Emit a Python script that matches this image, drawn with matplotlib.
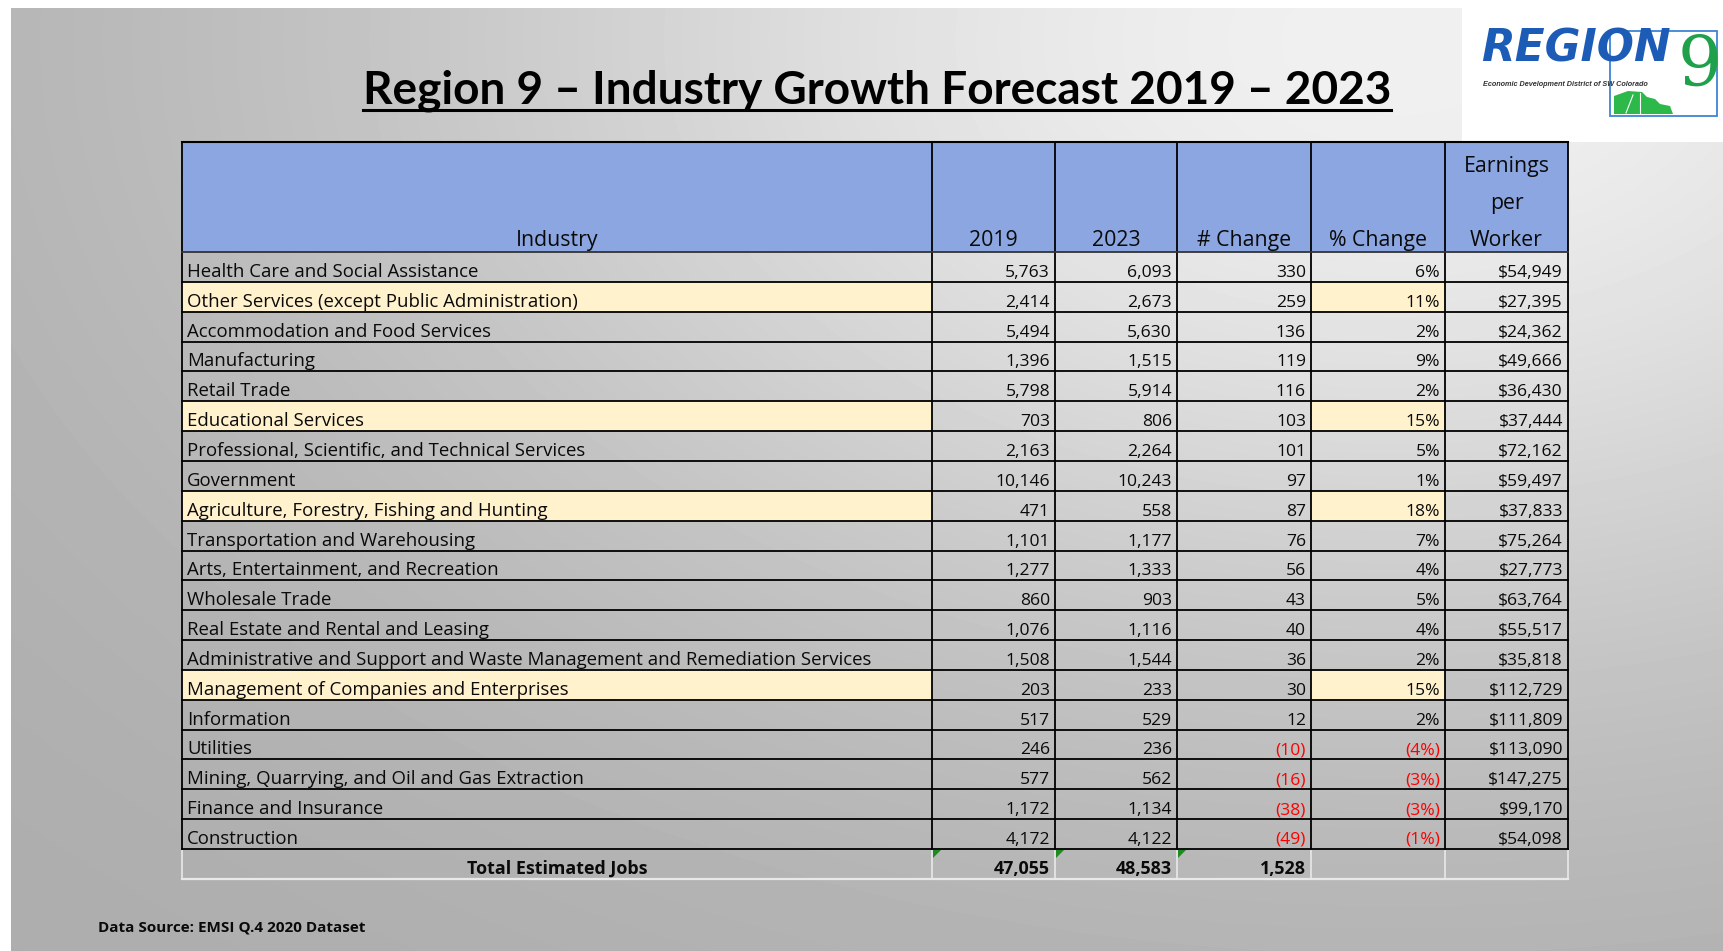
"""
plot.py
=======
Region 9 - Industry Growth Forecast 2019-2023 table, drawn with matplotlib.
"""

# =============================================================================
# IMPORTS
# =============================================================================
import matplotlib
matplotlib.use('Agg')
import matplotlib.pyplot as plt
from matplotlib.patches import Rectangle, Polygon
import numpy as np

# =============================================================================
# DATA
# =============================================================================
INDUSTRIES = [
    'Health Care and Social Assistance',
    'Other Services (except Public Administration)',
    'Accommodation and Food Services',
    'Manufacturing',
    'Retail Trade',
    'Educational Services',
    'Professional, Scientific, and Technical Services',
    'Government',
    'Agriculture, Forestry, Fishing and Hunting',
    'Transportation and Warehousing',
    'Arts, Entertainment, and Recreation',
    'Wholesale Trade',
    'Real Estate and Rental and Leasing',
    'Administrative and Support and Waste Management and Remediation Services',
    'Management of Companies and Enterprises',
    'Information',
    'Utilities',
    'Mining, Quarrying, and Oil and Gas Extraction',
    'Finance and Insurance',
    'Construction',
]
JOBS_2019 = [5763, 2414, 5494, 1396, 5798, 703, 2163, 10146, 471, 1101,
             1277, 860, 1076, 1508, 203, 517, 246, 577, 1172, 4172]
JOBS_2023 = [6093, 2673, 5630, 1515, 5914, 806, 2264, 10243, 558, 1177,
             1333, 903, 1116, 1544, 233, 529, 236, 562, 1134, 4122]
NUM_CHANGE = [330, 259, 136, 119, 116, 103, 101, 97, 87, 76,
              56, 43, 40, 36, 30, 12, -10, -16, -38, -49]
PCT_CHANGE = [6, 11, 2, 9, 2, 15, 5, 1, 18, 7,
              4, 5, 4, 2, 15, 2, -4, -3, -3, -1]
EARNINGS = [54949, 27395, 24362, 49666, 36430, 37444, 72162, 59497, 37833, 75264,
            27773, 63764, 55517, 35818, 112729, 111809, 113090, 147275, 99170, 54098]
TOTALS = [47055, 48583, 1528]

HEADERS = ['Industry', '2019', '2023', '# Change', '% Change', 'Earnings\nper\nWorker']

TITLE = 'Region 9 \u2013 Industry Growth Forecast 2019 \u2013 2023'
SOURCE = 'Data Source: EMSI Q.4 2020 Dataset'

# =============================================================================
# LAYOUT (pixels)
# =============================================================================
W, H = 1724, 951
COL_EDGES = [182, 932, 1055, 1177, 1311, 1445, 1568]
HEADER_TOP, HEADER_BOTTOM = 142, 252
ROW_H = 29.85

BODY_FONT = 'Open Sans'
TXT = '#0a0a0a'
BLUE_HEAD = '#8ba6e0'
YELLOW = '#fff2cc'
RED = '#ff0000'


def fmt_num(v):
    return f'{v:,}' if v >= 0 else f'({abs(v):,})'


def fmt_pct(v):
    return f'{v}%' if v >= 0 else f'({abs(v)}%)'


def background(ax):
    x0, y0 = 11, 8
    yy, xx = np.mgrid[y0:H, x0:W]
    d = np.sqrt(((xx - 1400) / 1450) ** 2 + ((yy - 40) / 900) ** 2)
    g = 172 + 68 * np.exp(-(d / 0.7) ** 2)
    ax.imshow(g, cmap='gray', vmin=0, vmax=255, extent=(x0, W, H, y0),
              aspect='auto', zorder=0, interpolation='bilinear')


def logo(ax):
    ax.add_patch(Rectangle((1462, 0), W - 1462, 142, facecolor='white',
                           edgecolor='none', zorder=1))
    ax.add_patch(Rectangle((1610, 31), 107, 85, facecolor='none',
                           edgecolor='#3d85d6', lw=1.3, zorder=2))
    ax.text(1481, 62, 'REGION', fontsize=31.5, fontweight='bold', style='italic',
            family='DejaVu Sans', color='#1d5cb6', ha='left', va='baseline', zorder=3)
    ax.text(1678, 86, '9', fontsize=50, family='DejaVu Serif', color='#1fa04a',
            ha='left', va='baseline', zorder=3)
    ax.text(1483, 84, 'Economic Development District of SW Colorado', fontsize=5.2,
            fontweight='bold', style='italic', family='Liberation Sans',
            color='#333333', ha='left', va='center', zorder=3)
    ax.add_patch(Polygon([(1614, 114), (1614, 96), (1628, 91), (1642, 92), (1647, 97),
                          (1655, 99), (1660, 104), (1670, 106), (1673, 114)],
                         closed=True, facecolor='#2db84a', edgecolor='none', zorder=2))
    ax.plot([1626, 1633], [113, 95], color='white', lw=0.8, zorder=3)
    ax.plot([1640, 1640], [113, 93], color='white', lw=0.8, zorder=3)


def table(ax):
    n = len(INDUSTRIES)
    left, right = COL_EDGES[0], COL_EDGES[-1]
    body_bottom = HEADER_BOTTOM + n * ROW_H
    total_bottom = body_bottom + ROW_H

    # header
    ax.add_patch(Rectangle((left, HEADER_TOP), right - left, HEADER_BOTTOM - HEADER_TOP,
                           facecolor=BLUE_HEAD, edgecolor='none', zorder=2))
    for j, lbl in enumerate(HEADERS):
        cx = (COL_EDGES[j] + COL_EDGES[j + 1]) / 2
        lines = lbl.split('\n')
        for k, line in enumerate(lines):
            ax.text(cx, HEADER_BOTTOM - 6 - (len(lines) - 1 - k) * 37, line,
                    fontsize=15.3, family=BODY_FONT, color=TXT,
                    ha='center', va='baseline', zorder=4)

    # highlighted cells (growth of 10% or more)
    for i, p in enumerate(PCT_CHANGE):
        if p >= 10:
            top = HEADER_BOTTOM + i * ROW_H
            for j in (0, 4):
                ax.add_patch(Rectangle((COL_EDGES[j], top), COL_EDGES[j + 1] - COL_EDGES[j],
                                       ROW_H, facecolor=YELLOW, edgecolor='none', zorder=2))

    # body text
    for i in range(n):
        base = HEADER_BOTTOM + (i + 1) * ROW_H - 5
        ax.text(COL_EDGES[0] + 5, base, INDUSTRIES[i], fontsize=13.4, family=BODY_FONT,
                color=TXT, ha='left', va='baseline', zorder=4)
        cells = [
            (fmt_num(JOBS_2019[i]), TXT),
            (fmt_num(JOBS_2023[i]), TXT),
            (fmt_num(NUM_CHANGE[i]), RED if NUM_CHANGE[i] < 0 else TXT),
            (fmt_pct(PCT_CHANGE[i]), RED if PCT_CHANGE[i] < 0 else TXT),
            (f'${EARNINGS[i]:,}', TXT),
        ]
        for j, (txt, col) in enumerate(cells, start=1):
            ax.text(COL_EDGES[j + 1] - 5, base, txt, fontsize=12.6, family=BODY_FONT,
                    color=col, ha='right', va='baseline', zorder=4)

    # total row
    base = total_bottom - 5
    ax.text((COL_EDGES[0] + COL_EDGES[1]) / 2, base, 'Total Estimated Jobs', fontsize=12.9,
            family=BODY_FONT, fontweight='bold', color=TXT, ha='center',
            va='baseline', zorder=4)
    for j, v in enumerate(TOTALS, start=1):
        ax.text(COL_EDGES[j + 1] - 5, base, fmt_num(v), fontsize=12.9, family=BODY_FONT,
                fontweight='bold', color=TXT, ha='right', va='baseline', zorder=4)
        x = COL_EDGES[j]
        ax.add_patch(Polygon([(x + 1, body_bottom + 1), (x + 9, body_bottom + 1),
                              (x + 1, body_bottom + 9)], closed=True,
                             facecolor='#1f8a1f', edgecolor='none', zorder=5))
    lc = '#e9e9e9'
    for x in COL_EDGES:
        ax.plot([x, x], [body_bottom, total_bottom], color=lc, lw=1.2, zorder=3)
    ax.plot([left, right], [total_bottom, total_bottom], color=lc, lw=1.6, zorder=3)

    # black grid
    for x in COL_EDGES:
        ax.plot([x, x], [HEADER_TOP, body_bottom], color='black', lw=1.3, zorder=4,
                solid_capstyle='projecting')
    ax.plot([left, right], [HEADER_TOP, HEADER_TOP], color='black', lw=1.5, zorder=4)
    ax.plot([left, right], [HEADER_BOTTOM, HEADER_BOTTOM], color='#333333', lw=1.3, zorder=4)
    for i in range(1, n + 1):
        y = HEADER_BOTTOM + i * ROW_H
        ax.plot([left, right], [y, y], color='black', lw=1.3, zorder=4)


def main():
    fig = plt.figure(figsize=(W / 100, H / 100), dpi=100, facecolor='white')
    ax = fig.add_axes([0, 0, 1, 1])
    ax.set_xlim(0, W)
    ax.set_ylim(H, 0)
    ax.axis('off')

    background(ax)
    logo(ax)

    # title: size fitted so that it spans the same width as in the slide
    title = ax.text(877, 104, TITLE, fontsize=30, fontweight='bold',
                    family='Lato', color='black',
                    ha='center', va='baseline', zorder=4)
    fig.canvas.draw()
    w = title.get_window_extent().width
    title.set_fontsize(30 * 1028 / w)
    fig.canvas.draw()
    bb = title.get_window_extent().transformed(ax.transData.inverted())
    ax.plot([bb.x0, bb.x1], [110, 110], color='black', lw=2.2, zorder=4)

    table(ax)

    ax.text(98, 927, SOURCE, fontsize=11, fontweight='bold', family=BODY_FONT,
            color=TXT, ha='left', va='center', zorder=4)

    fig.savefig('out.png', dpi=100, facecolor='white')
    plt.close(fig)


if __name__ == '__main__':
    main()
